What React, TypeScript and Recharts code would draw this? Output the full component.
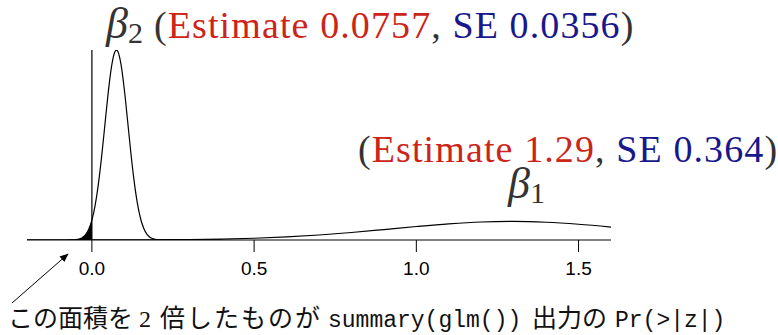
import React from 'react';
import { ComposedChart, Line, Area, XAxis, YAxis, ReferenceLine } from 'recharts';

// beta2 density (Estimate 0.0757, SE 0.0356)
const beta2X = [-0.2, -0.1, -0.08, -0.06, -0.05, -0.04, -0.03, -0.02, -0.01, 0, 0.01, 0.02, 0.03, 0.04, 0.05, 0.06, 0.07, 0.0757, 0.08, 0.09, 0.1, 0.11, 0.12, 0.13, 0.14, 0.15, 0.16, 0.17, 0.18, 0.19, 0.2, 0.22, 0.25, 0.4];
const beta2Y = [0, 0, 0.001, 0.008, 0.022, 0.057, 0.137, 0.302, 0.618, 1.169, 2.041, 3.295, 4.916, 6.778, 8.636, 10.168, 11.063, 11.206, 11.125, 10.337, 8.877, 7.045, 5.166, 3.501, 2.193, 1.269, 0.679, 0.336, 0.153, 0.065, 0.025, 0.003, 0, 0];

// beta1 density (Estimate 1.29, SE 0.364)
const beta1X = [-0.2, -0.1, 0, 0.1, 0.2, 0.3, 0.4, 0.5, 0.6, 0.7, 0.8, 0.9, 1.0, 1.1, 1.2, 1.3, 1.4, 1.5, 1.6];
const beta1Y = [0, 0.001, 0.002, 0.005, 0.012, 0.027, 0.055, 0.104, 0.182, 0.295, 0.443, 0.617, 0.798, 0.956, 1.063, 1.096, 1.047, 0.928, 0.763];

const xTicks = [0, 0.5, 1.0, 1.5];

const beta2Data = beta2X.map((x, i) => ({ x, y: beta2Y[i] }));
const beta1Data = beta1X.map((x, i) => ({ x, y: beta1Y[i] }));
const tailData = beta2Data.filter(d => d.x <= 0);

const RED = '#cc2418';
const BLUE = '#18188c';
const GRAY = '#333333';
const SERIF = '"Liberation Serif", "DejaVu Serif", serif';
const CJK = '"Noto Sans CJK JP", sans-serif';
const MONO = '"Liberation Mono", "DejaVu Sans Mono", monospace';

const AxisTick = (props: any) => {
  const { x, y, payload } = props;
  return (
    <text x={x} y={y + 14} textAnchor="middle" fontSize={19} fill="#000" fontFamily='"Liberation Sans", Arial, sans-serif'>
      {Number(payload.value).toFixed(1)}
    </text>
  );
};

const App: React.FC = () => {
  return (
    <div style={{ position: 'absolute', left: 0, top: 0, width: 778, height: 335, background: '#fff' }}>
      <ComposedChart width={778} height={335} margin={{ top: 50, right: 167, bottom: 65, left: 27 }}>
        <XAxis
          type="number"
          dataKey="x"
          domain={[-0.2, 1.6]}
          ticks={xTicks}
          allowDataOverflow
          height={30}
          tickSize={12}
          tickMargin={9}
          stroke="#000"
          tick={<AxisTick />}
        />
        <YAxis type="number" dataKey="y" domain={[0, 11.21]} hide allowDataOverflow />
        <ReferenceLine x={0} stroke="#000" strokeWidth={1.2} />
        <Area
          data={tailData}
          dataKey="y"
          type="monotone"
          fill="#000"
          fillOpacity={1}
          stroke="none"
          isAnimationActive={false}
        />
        <Line
          data={beta2Data}
          dataKey="y"
          type="monotone"
          stroke="#000"
          strokeWidth={1.2}
          dot={false}
          isAnimationActive={false}
        />
        <Line
          data={beta1Data}
          dataKey="y"
          type="monotone"
          stroke="#000"
          strokeWidth={1.2}
          dot={false}
          isAnimationActive={false}
        />
      </ComposedChart>

      <svg width={778} height={335} style={{ position: 'absolute', left: 0, top: 0, pointerEvents: 'none' }}>
        <defs>
          <marker id="head" viewBox="0 0 10 10" refX="9" refY="5" markerWidth="9" markerHeight="9" orient="auto">
            <path d="M0,1 L10,5 L0,9 z" fill="#000" />
          </marker>
        </defs>
        <text x={106} y={38} fontFamily={SERIF} fontSize={44} fill={GRAY}>
          <tspan fontStyle="italic">β</tspan>
          <tspan fontSize={30} dy={5}>2</tspan>
        </text>
        <text x={154} y={38} fontFamily={SERIF} fontSize={38} fill={GRAY} letterSpacing={1.1}>
          <tspan>(</tspan>
          <tspan fill={RED}>Estimate 0.0757</tspan>
          <tspan>, </tspan>
          <tspan fill={BLUE}>SE 0.0356</tspan>
          <tspan>)</tspan>
        </text>
        <text x={358} y={162} fontFamily={SERIF} fontSize={38} fill={GRAY} letterSpacing={1.1}>
          <tspan>(</tspan>
          <tspan fill={RED}>Estimate 1.29</tspan>
          <tspan>, </tspan>
          <tspan fill={BLUE}>SE 0.364</tspan>
          <tspan>)</tspan>
        </text>
        <text x={508} y={198} fontFamily={SERIF} fontSize={44} fill={GRAY}>
          <tspan fontStyle="italic">β</tspan>
          <tspan fontSize={30} dy={5}>1</tspan>
        </text>
        <line x1={12} y1={303} x2={68} y2={254} stroke="#000" strokeWidth={1} markerEnd="url(#head)" />
        <text y={327} fontSize={25} fill="#111">
          <tspan x={8} fontFamily={CJK}>この面積を</tspan>
          <tspan x={139} fontFamily={SERIF} fontSize={24}>2</tspan>
          <tspan x={160} fontFamily={CJK} letterSpacing={2}>倍したものが</tspan>
          <tspan x={328} fontFamily={MONO} fontSize={23}>summary(glm())</tspan>
          <tspan x={532} fontFamily={CJK}>出力の</tspan>
          <tspan x={615} fontFamily={MONO} fontSize={23}>Pr(&gt;|z|)</tspan>
        </text>
      </svg>
    </div>
  );
};

export default App;
